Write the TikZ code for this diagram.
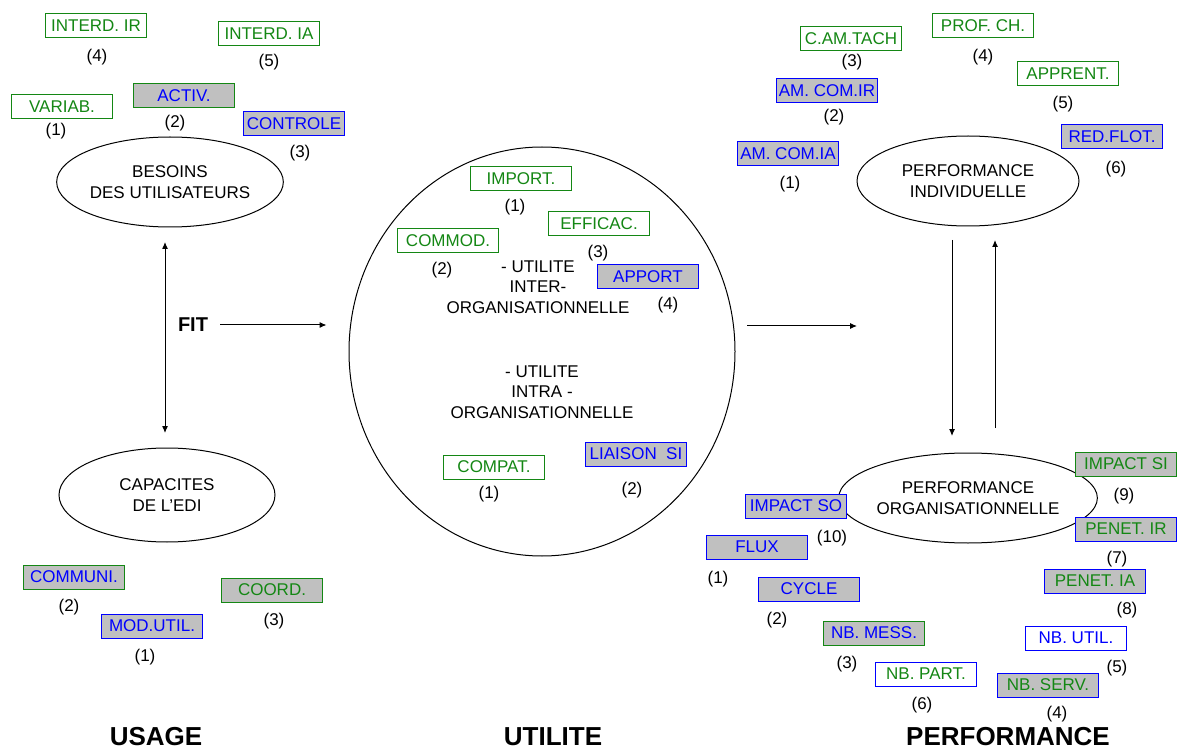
\documentclass[tikz,border=0pt]{standalone}
\usepackage{fontspec}
\setmainfont{Liberation Sans}
\usetikzlibrary{shapes.geometric, arrows.meta}
\definecolor{vert}{RGB}{20,135,20}
\definecolor{bleu}{RGB}{0,0,255}
\definecolor{gris}{RGB}{192,192,192}

\begin{document}
\begin{tikzpicture} [x=1pt, y=-1pt, >={Latex[length=7pt,width=6pt]}]
    \tikzstyle{every node}=[align = center, inner sep=0pt, font=\fontsize{17}{20.5}\selectfont]
    \tikzstyle{indic} = [line width=1pt, minimum width=101pt, minimum height=24pt]
    \tikzstyle{vblanc} = [indic, draw=vert, fill=white, text=vert]
    \tikzstyle{vgris} = [indic, draw=vert, fill=gris, text=vert]
    \tikzstyle{vgrisb} = [indic, draw=vert, fill=gris, text=bleu]
    \tikzstyle{bgris} = [indic, draw=bleu, fill=gris, text=bleu]
    \tikzstyle{bgrisv} = [indic, draw=bleu, fill=gris, text=vert]
    \tikzstyle{bblanc} = [indic, draw=bleu, fill=white, text=bleu]
    \tikzstyle{bblancv} = [indic, draw=bleu, fill=white, text=vert]
    \tikzstyle{bulle} = [ellipse, draw, line width=1pt]
    \tikzstyle{titre} = [font=\fontsize{26}{30}\selectfont\bfseries]
    \tikzstyle{fleche} = [line width=1pt]
    \useasboundingbox (0,0) rectangle (1181,751);

    % USAGE
    \node[bulle, minimum width=223pt, minimum height=90pt] (besoins) at (170,182) {BESOINS\\DES UTILISATEURS};
    \node[bulle, minimum width=216pt, minimum height=94pt] (capacites) at (167,495) {CAPACITES\\DE L'EDI};
    \node[vblanc] (interdIR) at (96,26) {INTERD. IR};
    \node (nInterdIR) at (97,57) {(4)};
    \node[vblanc] (interdIA) at (269,34) {INTERD. IA};
    \node (nInterdIA) at (269,62) {(5)};
    \node[vblanc] (variab) at (62,107) {VARIAB.};
    \node (nVariab) at (56,131) {(1)};
    \node[vgrisb] (activ) at (184,96) {ACTIV.};
    \node (nActiv) at (175,123) {(2)};
    \node[bgris] (controle) at (294,124) {CONTROLE};
    \node (nControle) at (300,153) {(3)};
    \node[vgrisb] (communi) at (74,577) {COMMUNI.};
    \node (nCommuni) at (69,607) {(2)};
    \node[bgris] (modutil) at (152,626) {MOD.UTIL.};
    \node (nModutil) at (145,657) {(1)};
    \node[vgris] (coord) at (272,590) {COORD.};
    \node (nCoord) at (274,621) {(3)};
    \node[titre] (usage) at (156,737) {USAGE};
    \node[font=\fontsize{20}{24}\selectfont\bfseries] (fit) at (193,325) {FIT};
    \coordinate (fitHaut) at (165,242);
    \coordinate (fitBas) at (165,433);
    \draw[fleche, <->] (fitHaut) -- (fitBas);

    % UTILITE
    \node[bulle, minimum width=386pt, minimum height=409pt] (utile) at (542,351.5) {};
    \draw[fleche, ->, shorten <=12pt, shorten >=22pt] (fit.east) -- (fit -| utile.west);
    \node (inter) at (538,287) {- UTILITE\\INTER-\\ORGANISATIONNELLE};
    \node (intra) at (542,392) {- UTILITE\\INTRA -\\ORGANISATIONNELLE};
    \node[vblanc] (import) at (521,179) {IMPORT.};
    \node (nImport) at (515,207) {(1)};
    \node[vblanc] (efficac) at (599,224) {EFFICAC.};
    \node (nEfficac) at (598,253) {(3)};
    \node[vblanc] (commod) at (448,241) {COMMOD.};
    \node (nCommod) at (442,270) {(2)};
    \node[bgris] (apport) at (648,277) {APPORT};
    \node (nApport) at (668,305) {(4)};
    \node[vblanc] (compat) at (494,467) {COMPAT.};
    \node (nCompat) at (489,494) {(1)};
    \node[bgris] (liaison) at (636,454) {LIAISON\ \ SI};
    \node (nLiaison) at (632,490) {(2)};
    \node[titre] (utilite) at (553,737) {UTILITE};
    \coordinate (versPerf) at (747,326);
    \coordinate (perfGauche) at (857,326);
    \draw[fleche, ->] (versPerf) -- (perfGauche);

    % PERFORMANCE
    \node[bulle, minimum width=222pt, minimum height=90pt] (perfInd) at (968,181) {PERFORMANCE\\INDIVIDUELLE};
    \node[bulle, minimum width=224pt, minimum height=90pt] (perfOrg) at (968,498) {PERFORMANCE\\ORGANISATIONNELLE};
    \coordinate (descHaut) at (952,240);
    \coordinate (descBas) at (952,436);
    \coordinate (montBas) at (995,428);
    \coordinate (montHaut) at (995,240);
    \draw[fleche, ->] (descHaut) -- (descBas);
    \draw[fleche, ->] (montBas) -- (montHaut);
    \node[vblanc] (camtach) at (851,39) {C.AM.TACH};
    \node (nCamtach) at (852,62) {(3)};
    \node[vblanc] (profch) at (983,26) {PROF. CH.};
    \node (nProfch) at (983,57) {(4)};
    \node[vblanc] (apprent) at (1068,74) {APPRENT.};
    \node (nApprent) at (1063,104) {(5)};
    \node[bgris] (amcomIR) at (827,91) {AM. COM.IR};
    \node (nAmcomIR) at (834,117) {(2)};
    \node[bgris] (amcomIA) at (788,154) {AM. COM.IA};
    \node (nAmcomIA) at (790,184) {(1)};
    \node[bgris] (redflot) at (1112,137) {RED.FLOT.};
    \node (nRedflot) at (1116,169) {(6)};
    \node[vgris] (impactSI) at (1126,464) {IMPACT SI};
    \node (nImpactSI) at (1124,496) {(9)};
    \node[bgrisv] (penetIR) at (1126,529) {PENET. IR};
    \node (nPenetIR) at (1117,559) {(7)};
    \node[bgrisv] (penetIA) at (1095,581) {PENET. IA};
    \node (nPenetIA) at (1127,610) {(8)};
    \node[bblanc] (nbutil) at (1076,638) {NB. UTIL.};
    \node (nNbutil) at (1117,668) {(5)};
    \node[bgrisv] (nbserv) at (1048,685) {NB. SERV.};
    \node (nNbserv) at (1057,714) {(4)};
    \node[bblancv] (nbpart) at (926,674) {NB. PART.};
    \node (nNbpart) at (922,705) {(6)};
    \node[vgrisb] (nbmess) at (874,633) {NB. MESS.};
    \node (nNbmess) at (847,664) {(3)};
    \node[bgris] (cycle) at (809,589) {CYCLE};
    \node (nCycle) at (777,620) {(2)};
    \node[bgris] (flux) at (757,547) {FLUX};
    \node (nFlux) at (718,579) {(1)};
    \node[bgris] (impactSO) at (796,506) {IMPACT SO};
    \node (nImpactSO) at (832,538) {(10)};
    \node[titre] (performance) at (1008,737) {PERFORMANCE};
\end{tikzpicture}
\end{document}
